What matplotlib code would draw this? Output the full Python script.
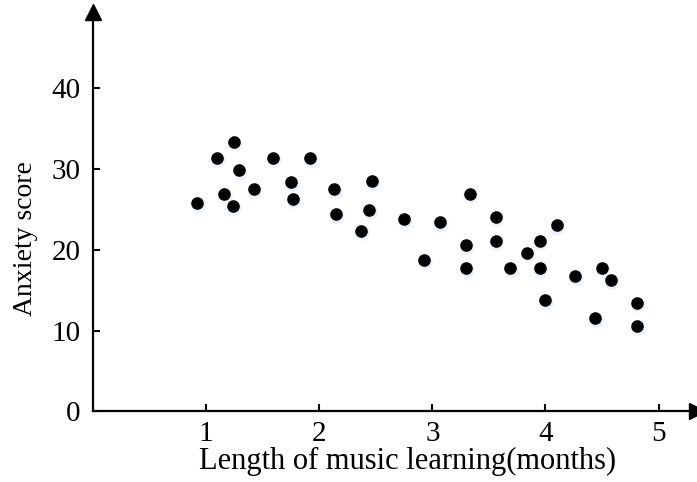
import matplotlib
matplotlib.use("Agg")
import matplotlib.pyplot as plt
import matplotlib.transforms as mtransforms

# data
meses = [0.92, 1.10, 1.25, 1.29, 1.16, 1.24, 1.42, 1.59, 1.75, 1.77, 1.92, 2.13,
         2.15, 2.47, 2.44, 2.37, 2.75, 2.93, 3.33, 3.07, 3.56, 3.56, 3.30, 3.30,
         3.69, 3.84, 3.95, 3.95, 4.10, 4.00, 4.26, 4.50, 4.58, 4.44, 4.81, 4.81]
ansiedade = [25.8, 31.4, 33.3, 29.8, 26.9, 25.4, 27.5, 31.4, 28.4, 26.3, 31.4, 27.5,
             24.4, 28.5, 24.9, 22.3, 23.8, 18.7, 26.9, 23.4, 24.0, 21.1, 20.6, 17.7,
             17.7, 19.6, 21.1, 17.7, 23.0, 13.8, 16.7, 17.7, 16.3, 11.6, 13.4, 10.6]
xticks = [1, 2, 3, 4, 5]
yticks = [0, 10, 20, 30, 40]

plt.rcParams['font.family'] = ['Liberation Serif', 'DejaVu Serif']

fig = plt.figure(figsize=(6.97, 4.82), dpi=100)
ax = fig.add_axes([0.1334, 0.1463, 0.8666, 0.829])
ax.set_xlim(0, 5.34)
ax.set_ylim(0, 49.4)

# sombra azulada leve atras dos pontos
sombra = mtransforms.offset_copy(ax.transData, fig=fig, x=0.5, y=-1.5, units='points')
ax.scatter(meses, ansiedade, s=110, color='#dbe7f3', alpha=0.5, linewidths=0,
           transform=sombra, zorder=2)
ax.scatter(meses, ansiedade, s=82, color='black', linewidths=0, zorder=3)

for lado in ['top', 'right']:
    ax.spines[lado].set_visible(False)
for lado in ['left', 'bottom']:
    ax.spines[lado].set_linewidth(1.6)

# setas nos eixos
ax.plot(1, 0, '>', color='black', markersize=11, transform=ax.transAxes, clip_on=False)
ax.plot(0, 1, '^', color='black', markersize=11, transform=ax.transAxes, clip_on=False)

ax.set_xticks(xticks)
ax.set_yticks(yticks)
ax.tick_params(direction='in', length=5, width=1.5, labelsize=21, pad=9)
ax.tick_params(axis='x', pad=7)

ax.set_xlabel('Length of music learning(months)', fontsize=22)
ax.set_ylabel('Anxiety score', fontsize=20)
ax.xaxis.set_label_coords(0.52, -0.088)
ax.yaxis.set_label_coords(-0.091, 0.434)

fig.savefig('out.png', dpi=100)
